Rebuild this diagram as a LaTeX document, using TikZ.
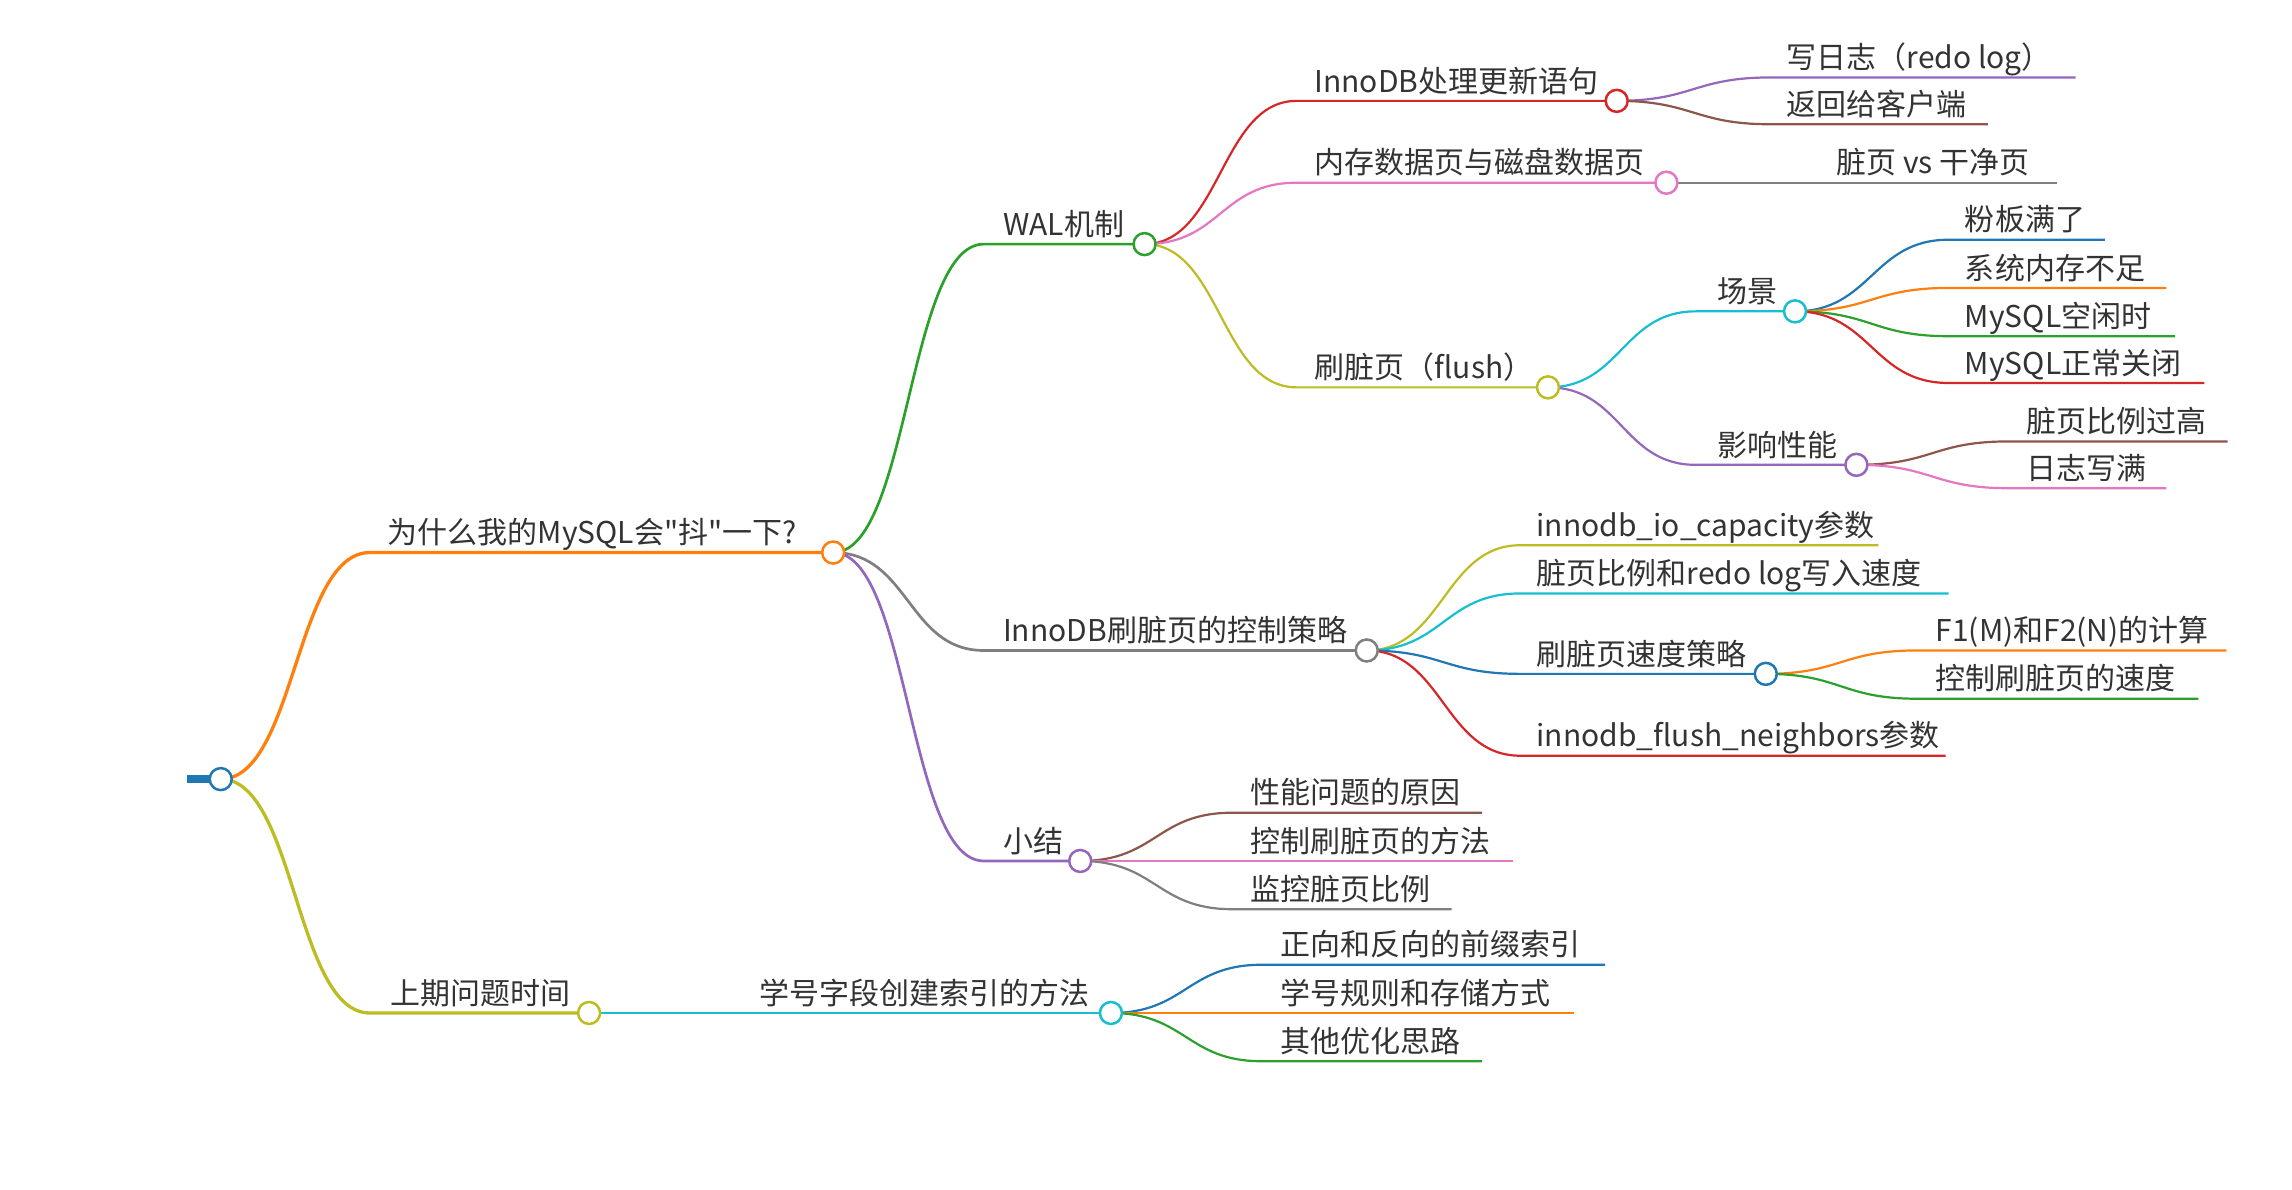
\documentclass[tikz,border=0pt]{standalone}
\usepackage{fontspec}
\newfontfamily\mapfont{Noto Sans CJK SC}
\usetikzlibrary{backgrounds}
\definecolor{mmBlue}{HTML}{1F77B4}
\definecolor{mmOrange}{HTML}{FF7F0E}
\definecolor{mmGreen}{HTML}{2CA02C}
\definecolor{mmRed}{HTML}{D62728}
\definecolor{mmPurple}{HTML}{9467BD}
\definecolor{mmBrown}{HTML}{8C564B}
\definecolor{mmPink}{HTML}{E377C2}
\definecolor{mmGray}{HTML}{7F7F7F}
\definecolor{mmOlive}{HTML}{BCBD22}
\definecolor{mmCyan}{HTML}{17BECF}
\definecolor{mmText}{RGB}{51,51,51}

\begin{document}
\begin{tikzpicture}[x=0.7308pt,y=-0.7308pt,
    txt/.style={anchor=base west,inner sep=0pt,text=mmText,font=\mapfont\fontsize{15}{18}\selectfont},
    dot/.style={circle,draw=#1,fill=white,line width=1.25pt,minimum size=11pt,inner sep=0pt},
    lA/.style={#1,line width=1.65pt},
    lB/.style={#1,line width=1.35pt},
    lC/.style={#1,line width=1.1pt}]
  \useasboundingbox (0,0) rectangle (1568,814);
  % root and first level
  \coordinate (stub) at (128,533);
  \node[dot=mmBlue] (root) at (151,533) {};
  \coordinate (why-s) at (253,378);
  \node[dot=mmOrange] (why) at (570,378) {};
  \node[txt] (why-t) at (265,372) {为什么我的MySQL会"抖"一下?};
  \coordinate (prev-s) at (253,693);
  \node[dot=mmOlive] (prev) at (403,693) {};
  \node[txt] (prev-t) at (267,687) {上期问题时间};
  % second level
  \coordinate (wal-s) at (673,167);
  \node[dot=mmGreen] (wal) at (783,167) {};
  \node[txt] (wal-t) at (686,161) {WAL机制};
  \coordinate (ctl-s) at (673,445);
  \node[dot=mmGray] (ctl) at (935,445) {};
  \node[txt] (ctl-t) at (686,439) {InnoDB刷脏页的控制策略};
  \coordinate (sum-s) at (673,589);
  \node[dot=mmPurple] (sum) at (739,589) {};
  \node[txt] (sum-t) at (686,583) {小结};
  \coordinate (idx-s) at (503,693);
  \node[dot=mmCyan] (idx) at (760,693) {};
  \node[txt] (idx-t) at (519,687) {学号字段创建索引的方法};
  % WAL branch
  \coordinate (upd-s) at (887,69);
  \node[dot=mmRed] (upd) at (1106,69) {};
  \node[txt] (upd-t) at (899,63) {InnoDB处理更新语句};
  \coordinate (mem-s) at (887,125);
  \node[dot=mmPink] (mem) at (1140,125) {};
  \node[txt] (mem-t) at (899,119) {内存数据页与磁盘数据页};
  \coordinate (fls-s) at (887,265);
  \node[dot=mmOlive] (fls) at (1059,265) {};
  \node[txt] (fls-t) at (899,259) {刷脏页（flush）};
  \coordinate (log-s) at (1211,53);
  \coordinate (log-e) at (1420,53);
  \node[txt] (log-t) at (1222,47) {写日志（redo log）};
  \coordinate (ret-s) at (1211,85);
  \coordinate (ret-e) at (1360,85);
  \node[txt] (ret-t) at (1222,79) {返回给客户端};
  \coordinate (dirty-s) at (1245,125);
  \coordinate (dirty-e) at (1407,125);
  \node[txt] (dirty-t) at (1256,119) {脏页 vs 干净页};
  \coordinate (scn-s) at (1160,213);
  \node[dot=mmCyan] (scn) at (1228,213) {};
  \node[txt] (scn-t) at (1175,207) {场景};
  \coordinate (perf-s) at (1160,318);
  \node[dot=mmPurple] (perf) at (1270,318) {};
  \node[txt] (perf-t) at (1175,312) {影响性能};
  \coordinate (s1-s) at (1333,164);
  \coordinate (s1-e) at (1440,164);
  \node[txt] (s1-t) at (1344,158) {粉板满了};
  \coordinate (s2-s) at (1333,197);
  \coordinate (s2-e) at (1482,197);
  \node[txt] (s2-t) at (1344,191) {系统内存不足};
  \coordinate (s3-s) at (1333,230);
  \coordinate (s3-e) at (1488,230);
  \node[txt] (s3-t) at (1344,224) {MySQL空闲时};
  \coordinate (s4-s) at (1333,262);
  \coordinate (s4-e) at (1508,262);
  \node[txt] (s4-t) at (1344,256) {MySQL正常关闭};
  \coordinate (p1-s) at (1374,302);
  \coordinate (p1-e) at (1524,302);
  \node[txt] (p1-t) at (1386,296) {脏页比例过高};
  \coordinate (p2-s) at (1374,334);
  \coordinate (p2-e) at (1482,334);
  \node[txt] (p2-t) at (1386,328) {日志写满};
  % control branch
  \coordinate (c1-s) at (1040,373);
  \coordinate (c1-e) at (1285,373);
  \node[txt] (c1-t) at (1051,367) {innodb\_io\_capacity参数};
  \coordinate (c2-s) at (1040,406);
  \coordinate (c2-e) at (1333,406);
  \node[txt] (c2-t) at (1051,400) {脏页比例和redo log写入速度};
  \coordinate (c3-s) at (1040,461);
  \node[dot=mmBlue] (c3) at (1208,461) {};
  \node[txt] (c3-t) at (1051,455) {刷脏页速度策略};
  \coordinate (c4-s) at (1040,517);
  \coordinate (c4-e) at (1331,517);
  \node[txt] (c4-t) at (1051,511) {innodb\_flush\_neighbors参数};
  \coordinate (f1-s) at (1311,445);
  \coordinate (f1-e) at (1523,445);
  \node[txt] (f1-t) at (1324,439) {F1(M)和F2(N)的计算};
  \coordinate (f2-s) at (1311,478);
  \coordinate (f2-e) at (1504,478);
  \node[txt] (f2-t) at (1324,472) {控制刷脏页的速度};
  % summary branch
  \coordinate (m1-s) at (843,556);
  \coordinate (m1-e) at (1014,556);
  \node[txt] (m1-t) at (855,550) {性能问题的原因};
  \coordinate (m2-s) at (843,589);
  \coordinate (m2-e) at (1035,589);
  \node[txt] (m2-t) at (855,583) {控制刷脏页的方法};
  \coordinate (m3-s) at (843,622);
  \coordinate (m3-e) at (993,622);
  \node[txt] (m3-t) at (855,616) {监控脏页比例};
  % index branch
  \coordinate (x1-s) at (863,660);
  \coordinate (x1-e) at (1098,660);
  \node[txt] (x1-t) at (876,654) {正向和反向的前缀索引};
  \coordinate (x2-s) at (863,693);
  \coordinate (x2-e) at (1077,693);
  \node[txt] (x2-t) at (876,687) {学号规则和存储方式};
  \coordinate (x3-s) at (863,726);
  \coordinate (x3-e) at (1014,726);
  \node[txt] (x3-t) at (876,720) {其他优化思路};

  \begin{scope}[on background layer]
    \draw[mmBlue,line width=4pt] (stub) -- (root.center);
    \draw[lA=mmOrange] (root.center) .. controls +(51,0) and +(-51,0) .. (why-s) -- (why.center);
    \draw[lA=mmOlive] (root.center) .. controls +(51,0) and +(-51,0) .. (prev-s) -- (prev.center);
    \draw[lB=mmGreen] (why.center) .. controls +(52,0) and +(-52,0) .. (wal-s) -- (wal.center);
    \draw[lB=mmGray] (why.center) .. controls +(52,0) and +(-52,0) .. (ctl-s) -- (ctl.center);
    \draw[lB=mmPurple] (why.center) .. controls +(52,0) and +(-52,0) .. (sum-s) -- (sum.center);
    \draw[lB=mmCyan] (prev.center) -- (idx-s) -- (idx.center);
    \draw[lC=mmRed] (wal.center) .. controls +(52,0) and +(-52,0) .. (upd-s) -- (upd.center);
    \draw[lC=mmPink] (wal.center) .. controls +(52,0) and +(-52,0) .. (mem-s) -- (mem.center);
    \draw[lC=mmOlive] (wal.center) .. controls +(52,0) and +(-52,0) .. (fls-s) -- (fls.center);
    \draw[lC=mmPurple] (upd.center) .. controls +(52,0) and +(-52,0) .. (log-s) -- (log-e);
    \draw[lC=mmBrown] (upd.center) .. controls +(52,0) and +(-52,0) .. (ret-s) -- (ret-e);
    \draw[lC=mmGray] (mem.center) -- (dirty-s) -- (dirty-e);
    \draw[lC=mmCyan] (fls.center) .. controls +(50,0) and +(-50,0) .. (scn-s) -- (scn.center);
    \draw[lC=mmPurple] (fls.center) .. controls +(50,0) and +(-50,0) .. (perf-s) -- (perf.center);
    \draw[lC=mmBlue] (scn.center) .. controls +(52,0) and +(-52,0) .. (s1-s) -- (s1-e);
    \draw[lC=mmOrange] (scn.center) .. controls +(52,0) and +(-52,0) .. (s2-s) -- (s2-e);
    \draw[lC=mmGreen] (scn.center) .. controls +(52,0) and +(-52,0) .. (s3-s) -- (s3-e);
    \draw[lC=mmRed] (scn.center) .. controls +(52,0) and +(-52,0) .. (s4-s) -- (s4-e);
    \draw[lC=mmBrown] (perf.center) .. controls +(52,0) and +(-52,0) .. (p1-s) -- (p1-e);
    \draw[lC=mmPink] (perf.center) .. controls +(52,0) and +(-52,0) .. (p2-s) -- (p2-e);
    \draw[lC=mmOlive] (ctl.center) .. controls +(52,0) and +(-52,0) .. (c1-s) -- (c1-e);
    \draw[lC=mmCyan] (ctl.center) .. controls +(52,0) and +(-52,0) .. (c2-s) -- (c2-e);
    \draw[lC=mmBlue] (ctl.center) .. controls +(52,0) and +(-52,0) .. (c3-s) -- (c3.center);
    \draw[lC=mmRed] (ctl.center) .. controls +(52,0) and +(-52,0) .. (c4-s) -- (c4-e);
    \draw[lC=mmOrange] (c3.center) .. controls +(51,0) and +(-51,0) .. (f1-s) -- (f1-e);
    \draw[lC=mmGreen] (c3.center) .. controls +(51,0) and +(-51,0) .. (f2-s) -- (f2-e);
    \draw[lC=mmBrown] (sum.center) .. controls +(52,0) and +(-52,0) .. (m1-s) -- (m1-e);
    \draw[lC=mmPink] (sum.center) .. controls +(52,0) and +(-52,0) .. (m2-s) -- (m2-e);
    \draw[lC=mmGray] (sum.center) .. controls +(52,0) and +(-52,0) .. (m3-s) -- (m3-e);
    \draw[lC=mmBlue] (idx.center) .. controls +(51,0) and +(-51,0) .. (x1-s) -- (x1-e);
    \draw[lC=mmOrange] (idx.center) .. controls +(51,0) and +(-51,0) .. (x2-s) -- (x2-e);
    \draw[lC=mmGreen] (idx.center) .. controls +(51,0) and +(-51,0) .. (x3-s) -- (x3-e);
  \end{scope}
\end{tikzpicture}
\end{document}
